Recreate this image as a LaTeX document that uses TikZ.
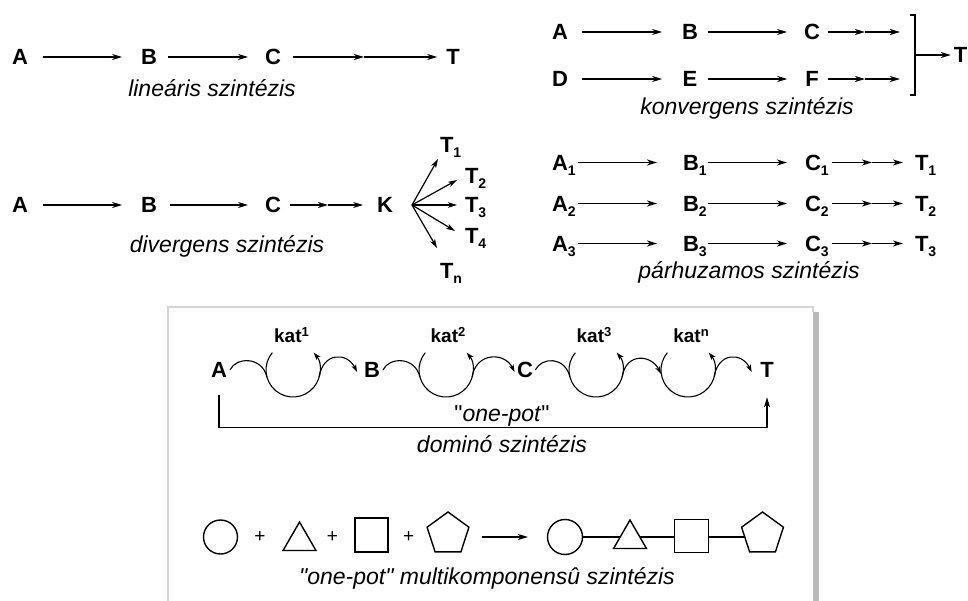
\documentclass[tikz,border=0pt]{standalone}
\usepackage{fontspec}
\setmainfont{Liberation Sans}
\usetikzlibrary{arrows.meta,shapes.geometric,backgrounds}

% lowered and raised indices for the bold labels
\newcommand{\lowidx}[1]{\raisebox{-5pt}{\fontsize{14}{14}\selectfont #1}}
\newcommand{\upidx}[1]{\raisebox{6.5pt}{\fontsize{13}{14}\selectfont #1}}

\begin{document}
\begin{tikzpicture}[x=1pt,y=1pt,
  lbl/.style={font=\fontsize{22}{26}\selectfont\bfseries, inner sep=0pt, outer sep=0pt,
              text height=15.5pt, text depth=0pt},
  capt/.style={font=\fontsize{23}{27}\selectfont\itshape, inner sep=0pt, anchor=base},
  upcapt/.style={font=\fontsize{23}{27}\selectfont, inner sep=0pt, anchor=base},
  katlbl/.style={font=\fontsize{19}{22}\selectfont\bfseries, inner sep=0pt,
                 text height=13.5pt, text depth=0pt},
  plus/.style={font=\fontsize{19}{22}\selectfont, inner sep=0pt},
  rxn/.style={draw, line width=1.4pt, -{Stealth[length=10pt,width=6pt,inset=3pt]}},
  bar/.style={draw, line width=1.4pt},
  fanarrow/.style={draw, line width=1.2pt, -{Stealth[length=9pt,width=5.5pt,inset=2.5pt]}},
  wave/.style={draw, line width=1.1pt},
  wavetip/.style={draw, line width=1.1pt, -{Stealth[length=7.5pt,width=5pt,inset=2pt]}},
  cyc/.style={circle, minimum size=54pt, inner sep=0pt, outer sep=0pt},
  frame/.style={draw=black!17, line width=2pt},
  shadow/.style={fill=black!27},
  mol/.style={draw, line width=1.4pt, fill=white, inner sep=0pt, outer sep=0pt},
  bond/.style={draw, line width=2.2pt},
]
\useasboundingbox (0,0) rectangle (968,-601);

% ---------- linear synthesis ----------
\node[lbl] (lA) at (20,-57) {A};
\node[lbl] (lB) at (149,-57) {B};
\node[lbl] (lC) at (273,-57) {C};
\coordinate (lM) at (364,-57);
\node[lbl] (lT) at (453,-57) {T};
\draw[rxn, shorten <=15pt, shorten >=19pt] (lA) -- (lB);
\draw[rxn, shorten <=11pt, shorten >=17pt] (lB) -- (lC);
\draw[rxn, shorten <=12pt] (lC) -- (lM);
\draw[rxn, shorten >=9pt] (lM) -- (lT);
\node[capt] (lcap) at (212,-97) {lineáris szintézis};

% ---------- convergent synthesis ----------
\node[lbl] (cA) at (560,-32) {A};
\node[lbl] (cB) at (690,-32) {B};
\node[lbl] (cC) at (812,-32) {C};
\coordinate (cM1) at (865,-32);
\coordinate (cE1) at (900,-32);
\node[lbl] (cD) at (560,-79) {D};
\node[lbl] (cE) at (690,-79) {E};
\node[lbl] (cF) at (812,-79) {F};
\coordinate (cM2) at (865,-79);
\coordinate (cE2) at (900,-79);
\draw[rxn, shorten <=14pt, shorten >=20pt] (cA) -- (cB);
\draw[rxn, shorten <=10pt, shorten >=17pt] (cB) -- (cC);
\draw[rxn, shorten <=8pt] (cC) -- (cM1);
\draw[rxn] (cM1) -- (cE1);
\draw[rxn, shorten <=14pt, shorten >=20.5pt] (cD) -- (cE);
\draw[rxn, shorten <=10.5pt, shorten >=18pt] (cE) -- (cF);
\draw[rxn, shorten <=9pt] (cF) -- (cM2);
\draw[rxn] (cM2) -- (cE2);
\coordinate (brT) at (915,-15);
\coordinate (brB) at (915,-95);
\coordinate (brM) at (915,-55);
\draw[bar] ([xshift=-5pt]brT) -- (brT) -- (brB) -- ([xshift=-5pt]brB);
\node[lbl] (cT) at (960.5,-55) {T};
\draw[rxn, shorten >=3pt] (brM) -- (cT);
\node[capt] (ccap) at (747,-115) {konvergens szintézis};

% ---------- divergent synthesis ----------
\node[lbl] (dA) at (20,-205) {A};
\node[lbl] (dB) at (149,-205) {B};
\node[lbl] (dC) at (273,-205) {C};
\coordinate (dM) at (328,-205);
\node[lbl] (dK) at (385,-205) {K};
\draw[rxn, shorten <=15pt, shorten >=19pt] (dA) -- (dB);
\draw[rxn, shorten <=13pt, shorten >=17pt] (dB) -- (dC);
\draw[rxn, shorten <=9pt] (dC) -- (dM);
\draw[rxn, shorten >=14pt] (dM) -- (dK);
\coordinate (fan) at (412,-205);
\node[lbl, anchor=west] (dT1) at (440,-144.5) {T\lowidx{1}};
\node[lbl, anchor=west] (dT2) at (465,-176) {T\lowidx{2}};
\node[lbl, anchor=west] (dT3) at (465,-204.5) {T\lowidx{3}};
\node[lbl, anchor=west] (dT4) at (465,-235.5) {T\lowidx{4}};
\node[lbl, anchor=west] (dTn) at (440,-270.5) {T\lowidx{n}};
\coordinate (f1) at (438,-159);
\coordinate (f2) at (457,-180);
\coordinate (f3) at (457,-205);
\coordinate (f4) at (455,-231);
\coordinate (fn) at (437,-248);
\foreach \t in {f1,f2,f3,f4,fn} \draw[fanarrow] (fan) -- (\t);
\node[capt] (dcap) at (227,-253) {divergens szintézis};

% ---------- parallel synthesis ----------
\foreach \r/\y in {1/162.5, 2/203.5, 3/243.5} {
  \node[lbl, anchor=west] (pA\r) at (552,-\y) {A\lowidx{\r}};
  \node[lbl, anchor=west] (pB\r) at (683,-\y) {B\lowidx{\r}};
  \node[lbl, anchor=west] (pC\r) at (805,-\y) {C\lowidx{\r}};
  \coordinate (pM\r) at (872,-\y);
  \node[lbl, anchor=west] (pT\r) at (915,-\y) {T\lowidx{\r}};
  \draw[rxn, shorten <=2pt, shorten >=26pt] (pA\r) -- (pB\r);
  \draw[rxn, shorten <=1pt, shorten >=18pt] (pB\r) -- (pC\r);
  \draw[rxn, shorten <=3pt] (pC\r) -- (pM\r);
  \draw[rxn, shorten >=12pt] (pM\r) -- (pT\r);
}
\node[capt] (pcap) at (749,-279) {párhuzamos szintézis};

% ---------- framed panel ----------
\fill[shadow] (813,-312) rectangle (819,-601);
\draw[frame] (168,-610) -- (168,-307) -- (813,-307) -- (813,-312);

% ---------- domino synthesis ----------
\node[lbl] (mA) at (219,-370) {A};
\node[lbl] (mB) at (372,-370) {B};
\node[lbl] (mC) at (525,-370) {C};
\node[lbl] (mT) at (767,-370) {T};
\node[cyc] (k1) at (293,-370) {};
\node[cyc] (k2) at (446,-370) {};
\node[cyc] (k3) at (596,-370) {};
\node[cyc] (kn) at (688,-370) {};
\node[katlbl] (kat1) at (291.5,-336) {kat\upidx{1}};
\node[katlbl] (kat2) at (448,-336) {kat\upidx{2}};
\node[katlbl] (kat3) at (594,-336) {kat\upidx{3}};
\node[katlbl] (katn) at (691,-336) {kat\upidx{n}};
\foreach \k in {k1,k2,k3,kn}
  \draw[wavetip] (\k.140) arc[start angle=140, end angle=400, radius=27pt];
% substrates entering the cycles
\draw[wave] ([xshift=3pt]mA.east) .. controls +(6,13) and +(-5,21) .. (k1.195);
\draw[wave] ([xshift=3pt]mB.east) .. controls +(6,13) and +(-5,21) .. (k2.195);
\draw[wave] ([xshift=2.4pt]mC.east) .. controls +(6,13) and +(-5,21) .. (k3.195);
% products leaving the cycles
\draw[wavetip] (k1.-15) .. controls +(4,25) and +(-10,20) .. ([shift={(-7pt,-2pt)}]mB.west);
\draw[wavetip] (k2.-15) .. controls +(4,25) and +(-10,20) .. ([shift={(-2.5pt,-2pt)}]mC.west);
\draw[wavetip, shorten >=1pt] (k3.-15) .. controls +(4,25) and +(-10,20) .. (kn.190);
\draw[wavetip] (kn.-15) .. controls +(4,25) and +(-10,20) .. ([shift={(-8.6pt,-2pt)}]mT.west);
% one-pot bracket
\draw[rxn] ([yshift=-17.5pt]mA.south) -- ++(0,-32) -| ([yshift=-19.5pt]mT.south);
\node[upcapt] (onepot) at (502,-421) {\textquotedbl\textit{one-pot}\textquotedbl};
\node[capt] (mcap) at (502,-452) {dominó szintézis};

% ---------- multicomponent synthesis ----------
\node[mol, circle, minimum size=34pt] (r1) at (220.5,-537) {};
\node[plus] (s1) at (260,-537) {+};
\node[mol, regular polygon, regular polygon sides=3, minimum size=38pt] (r2) at (299.5,-541) {};
\node[plus] (s2) at (332.5,-537) {+};
\node[mol, rectangle, minimum width=33pt, minimum height=34pt] (r3) at (371.5,-535) {};
\node[plus] (s3) at (408.6,-537) {+};
\node[mol, regular polygon, regular polygon sides=5, minimum size=44pt] (r4) at (448,-534) {};
\node[mol, circle, minimum size=35pt] (p1) at (565,-537) {};
\node[mol, regular polygon, regular polygon sides=3, minimum size=38pt] (p2) at (630,-539) {};
\node[mol, rectangle, minimum width=34pt, minimum height=33pt] (p3) at (691.5,-536) {};
\node[mol, regular polygon, regular polygon sides=5, minimum size=44pt] (p4) at (762.5,-534) {};
\begin{scope}[on background layer]
  \draw[bond] (p1.center) -- (p1.center -| p4.center);
\end{scope}
\draw[rxn, shorten <=15.3pt, shorten >=19.5pt] ([yshift=-3pt]r4.east) -- (p1.west);
\node[capt] (mccap) at (487,-584) {\textquotedbl\textit{one-pot}\textquotedbl{} \textit{multikomponensû szintézis}};
\end{tikzpicture}
\end{document}
